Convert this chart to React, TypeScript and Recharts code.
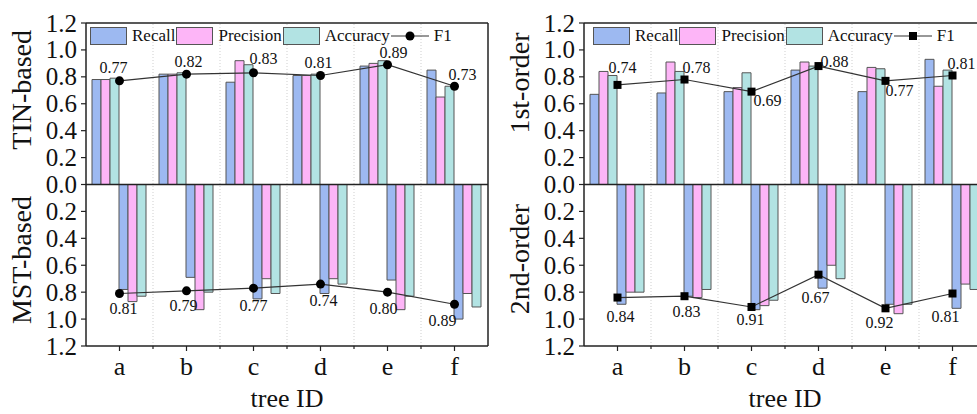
import React from 'react';
import { ComposedChart, Bar, Line, XAxis, YAxis, ReferenceLine, LabelList, Legend } from 'recharts';

const TREE_IDS = ['a', 'b', 'c', 'd', 'e', 'f'];

const TIN_RECALL = [0.78, 0.82, 0.76, 0.81, 0.88, 0.85];
const TIN_PRECISION = [0.78, 0.82, 0.92, 0.81, 0.9, 0.65];
const TIN_ACCURACY = [0.79, 0.83, 0.89, 0.82, 0.92, 0.73];
const TIN_F1 = [0.77, 0.82, 0.83, 0.81, 0.89, 0.73];

const MST_RECALL = [0.78, 0.69, 0.85, 0.81, 0.71, 1.0];
const MST_PRECISION = [0.87, 0.93, 0.7, 0.7, 0.93, 0.81];
const MST_ACCURACY = [0.83, 0.8, 0.81, 0.74, 0.83, 0.91];
const MST_F1 = [0.81, 0.79, 0.77, 0.74, 0.8, 0.89];

const FIRST_RECALL = [0.67, 0.68, 0.69, 0.85, 0.69, 0.93];
const FIRST_PRECISION = [0.84, 0.91, 0.72, 0.91, 0.87, 0.73];
const FIRST_ACCURACY = [0.81, 0.84, 0.83, 0.88, 0.86, 0.85];
const FIRST_F1 = [0.74, 0.78, 0.69, 0.88, 0.77, 0.81];

const SECOND_RECALL = [0.89, 0.83, 0.93, 0.77, 0.89, 0.92];
const SECOND_PRECISION = [0.8, 0.84, 0.9, 0.6, 0.96, 0.74];
const SECOND_ACCURACY = [0.8, 0.78, 0.86, 0.7, 0.89, 0.78];
const SECOND_F1 = [0.84, 0.83, 0.91, 0.67, 0.92, 0.81];

const Y_TICKS = [-1.2, -1.0, -0.8, -0.6, -0.4, -0.2, 0, 0.2, 0.4, 0.6, 0.8, 1.0, 1.2];
const LEGEND_NAMES = ['Recall', 'Precision', 'Accuracy', 'F1'];

// label placement offsets (dx, dy) relative to each F1 point
const TIN_LABEL_OFF = [[-6, -13], [2, -13], [10, -14], [-2, -13], [6, -12], [8, -12]];
const MST_LABEL_OFF = [[4, 15], [-3, 15], [0, 17], [3, 16], [-4, 16], [-12, 16]];
const FIRST_LABEL_OFF = [[5, -17], [12, -12], [16, 9], [16, -5], [14, 10], [9, -12]];
const SECOND_LABEL_OFF = [[3, 19], [2, 15], [-1, 13], [-3, 23], [-6, 14], [-7, 23]];

const FONT = '"Liberation Serif", "Times New Roman", Times, serif';
const C_RECALL = '#9db9f1';
const C_PRECISION = '#fdb5f7';
const C_ACCURACY = '#b2e3e3';
const BAR_STROKE = '#555555';
const AXIS = '#222222';

const buildRows = (tr, tp, ta, tf, br, bp, ba, bf) =>
  TREE_IDS.map((id, i) => ({
    id,
    tr: tr[i], tp: tp[i], ta: ta[i], tf: tf[i],
    br: -br[i], bp: -bp[i], ba: -ba[i], bf: -bf[i],
  }));

const LEFT_ROWS = buildRows(TIN_RECALL, TIN_PRECISION, TIN_ACCURACY, TIN_F1, MST_RECALL, MST_PRECISION, MST_ACCURACY, MST_F1);
const RIGHT_ROWS = buildRows(FIRST_RECALL, FIRST_PRECISION, FIRST_ACCURACY, FIRST_F1, SECOND_RECALL, SECOND_PRECISION, SECOND_ACCURACY, SECOND_F1);

const makeDot = (square) => (props) => {
  const { cx, cy, index } = props;
  if (cx == null || cy == null) return null;
  if (square) return <rect key={`d${index}`} x={cx - 4} y={cy - 4} width={8} height={8} fill="#000" />;
  return <circle key={`d${index}`} cx={cx} cy={cy} r={4.5} fill="#000" />;
};

const makeF1Label = (offsets) => (props) => {
  const { x, y, value, index } = props;
  if (x == null || y == null) return null;
  const off = offsets[index] || [0, 0];
  return (
    <text
      key={`l${index}`}
      x={x + off[0]}
      y={y + off[1]}
      textAnchor="middle"
      dominantBaseline="central"
      fontFamily={FONT}
      fontSize={16}
      fill="#111"
    >
      {Math.abs(value).toFixed(2)}
    </text>
  );
};

const boundaryShape = (p) => {
  const yb = Math.max(p.y1, p.y2);
  return (
    <g>
      <line x1={p.x1} y1={p.y1} x2={p.x2} y2={p.y2} stroke="#cfcfcf" strokeWidth={1} strokeDasharray="1 2" />
      <line x1={p.x1} y1={yb} x2={p.x1} y2={yb + 3} stroke={AXIS} strokeWidth={1.2} />
    </g>
  );
};

const YTick = (props) => {
  const { x, y, payload } = props;
  return (
    <text x={x} y={y} textAnchor="end" dominantBaseline="central" fontFamily={FONT} fontSize={25} fill="#111">
      {Math.abs(payload.value).toFixed(1)}
    </text>
  );
};

const XTick = (props) => {
  const { x, y, payload } = props;
  return (
    <text x={x} y={y + 19} textAnchor="middle" fontFamily={FONT} fontSize={26} fill="#111">
      {payload.value}
    </text>
  );
};

const LegendBox = ({ square }) => {
  const colors = [C_RECALL, C_PRECISION, C_ACCURACY];
  return (
    <div style={{ display: 'flex', alignItems: 'center', fontFamily: FONT, fontSize: 17, color: '#111', whiteSpace: 'nowrap', lineHeight: '18px' }}>
      {colors.map((c, i) => (
        <React.Fragment key={i}>
          <span style={{ display: 'inline-block', width: 37, height: 18, background: c, border: `1px solid ${BAR_STROKE}`, boxSizing: 'border-box', marginRight: 5 }} />
          <span style={{ marginRight: 1 }}>{LEGEND_NAMES[i]}</span>
        </React.Fragment>
      ))}
      <svg width={38} height={18} style={{ display: 'block' }}>
        <line x1={0} y1={9} x2={38} y2={9} stroke="#333" strokeWidth={1.2} />
        {square ? <rect x={15} y={5} width={8} height={8} fill="#000" /> : <circle cx={19} cy={9} r={4.5} fill="#000" />}
      </svg>
      <span style={{ marginLeft: 5 }}>{LEGEND_NAMES[3]}</span>
    </div>
  );
};

const Panel = ({ rows, width, axisW, topTitle, bottomTitle, square, legendLeft, titleX, topFrac, botFrac, topOff, botOff }) => {
  const yTitle = (props) => {
    const vb = props.viewBox || { x: 0, y: 23, width: axisW, height: 323 };
    const cx = vb.x + titleX;
    const cyT = vb.y + vb.height * topFrac;
    const cyB = vb.y + vb.height * botFrac;
    return (
      <g>
        <text x={cx} y={cyT} transform={`rotate(-90, ${cx}, ${cyT})`} textAnchor="middle" dominantBaseline="central" fontFamily={FONT} fontSize={28} fill="#111">{topTitle}</text>
        <text x={cx} y={cyB} transform={`rotate(-90, ${cx}, ${cyB})`} textAnchor="middle" dominantBaseline="central" fontFamily={FONT} fontSize={28} fill="#111">{bottomTitle}</text>
      </g>
    );
  };
  const xTitle = (props) => {
    const vb = props.viewBox || { x: axisW, y: 346, width: 402, height: 68 };
    return (
      <text x={vb.x + vb.width / 2} y={vb.y + 61} textAnchor="middle" fontFamily={FONT} fontSize={26} fill="#111">tree ID</text>
    );
  };
  return (
    <ComposedChart
      width={width}
      height={414}
      data={rows}
      margin={{ top: 23, right: width - axisW - 402, bottom: 0, left: 0 }}
      barCategoryGap={6}
      barGap={0}
    >
      <XAxis
        dataKey="id"
        height={68}
        tickSize={5}
        tickMargin={5}
        tick={<XTick />}
        tickLine={{ stroke: AXIS, strokeWidth: 1.2 }}
        axisLine={{ stroke: AXIS, strokeWidth: 1.5 }}
        interval={0}
        label={{ content: xTitle }}
      />
      <YAxis
        width={axisW}
        domain={[-1.2, 1.2]}
        ticks={Y_TICKS}
        interval={0}
        allowDataOverflow
        tickSize={5}
        tickMargin={4}
        tick={<YTick />}
        tickLine={{ stroke: AXIS, strokeWidth: 1.2 }}
        axisLine={{ stroke: AXIS, strokeWidth: 1.5 }}
        label={{ content: yTitle }}
      />
      {TREE_IDS.slice(1).map((id) => (
        <ReferenceLine key={id} x={id} position="start" shape={boundaryShape} />
      ))}
      <Bar dataKey="tr" fill={C_RECALL} stroke={BAR_STROKE} strokeWidth={1} isAnimationActive={false} />
      <Bar dataKey="tp" fill={C_PRECISION} stroke={BAR_STROKE} strokeWidth={1} isAnimationActive={false} />
      <Bar dataKey="ta" fill={C_ACCURACY} stroke={BAR_STROKE} strokeWidth={1} isAnimationActive={false} />
      <Bar dataKey="br" fill={C_RECALL} stroke={BAR_STROKE} strokeWidth={1} isAnimationActive={false} />
      <Bar dataKey="bp" fill={C_PRECISION} stroke={BAR_STROKE} strokeWidth={1} isAnimationActive={false} />
      <Bar dataKey="ba" fill={C_ACCURACY} stroke={BAR_STROKE} strokeWidth={1} isAnimationActive={false} />
      <ReferenceLine y={0} stroke={AXIS} strokeWidth={1.5} />
      <ReferenceLine y={1.2} stroke={AXIS} strokeWidth={1.5} />
      <ReferenceLine x="f" position="end" stroke={AXIS} strokeWidth={1.5} />
      <Line dataKey="tf" type="linear" stroke="#333" strokeWidth={1.2} dot={makeDot(square)} activeDot={false} isAnimationActive={false}>
        <LabelList dataKey="tf" content={makeF1Label(topOff)} />
      </Line>
      <Line dataKey="bf" type="linear" stroke="#333" strokeWidth={1.2} dot={makeDot(square)} activeDot={false} isAnimationActive={false}>
        <LabelList dataKey="bf" content={makeF1Label(botOff)} />
      </Line>
      <Legend
        layout="horizontal"
        verticalAlign="middle"
        align="center"
        content={() => <LegendBox square={square} />}
        wrapperStyle={{ top: 27, left: legendLeft, width: 'auto', height: 'auto' }}
      />
    </ComposedChart>
  );
};

export default function App() {
  return (
    <div style={{ position: 'absolute', left: 0, top: 0, width: 977, height: 414, overflow: 'hidden', background: '#fff' }}>
      <div style={{ position: 'absolute', left: 0, top: 0 }}>
        <Panel
          rows={LEFT_ROWS}
          width={490}
          axisW={86}
          topTitle="TIN-based"
          bottomTitle="MST-based"
          square={false}
          legendLeft={90}
          titleX={22}
          topFrac={0.207}
          botFrac={0.734}
          topOff={TIN_LABEL_OFF}
          botOff={MST_LABEL_OFF}
        />
      </div>
      <div style={{ position: 'absolute', left: 490, top: 0 }}>
        <Panel
          rows={RIGHT_ROWS}
          width={499}
          axisW={94}
          topTitle="1st-order"
          bottomTitle="2nd-order"
          square={true}
          legendLeft={103}
          titleX={30}
          topFrac={0.186}
          botFrac={0.731}
          topOff={FIRST_LABEL_OFF}
          botOff={SECOND_LABEL_OFF}
        />
      </div>
    </div>
  );
}
